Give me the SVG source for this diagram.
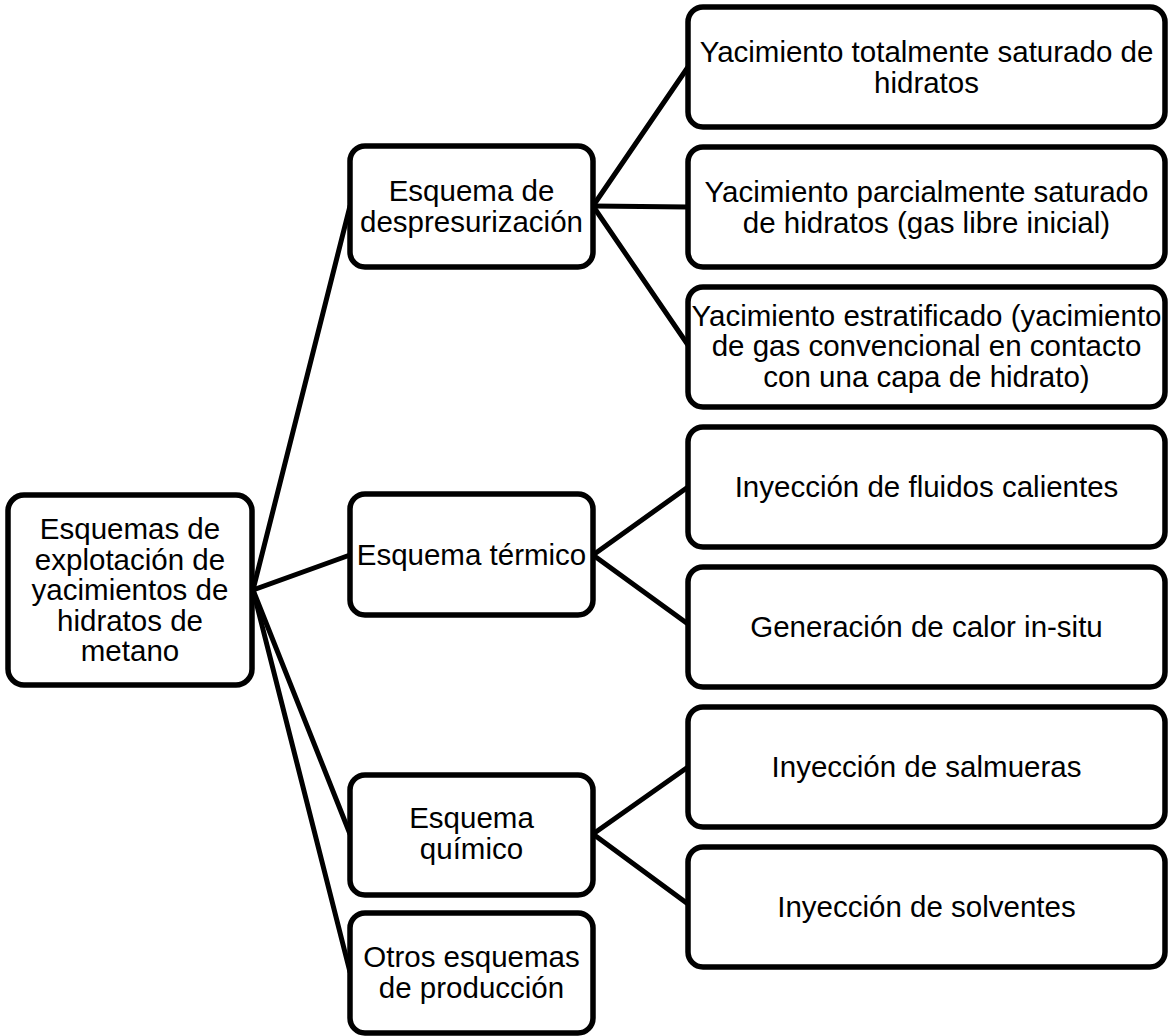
<svg xmlns="http://www.w3.org/2000/svg" width="1169" height="1036" viewBox="0 0 1169 1036">
<style>
rect.n{fill:#fff;stroke:#000;stroke-width:5.5}
text{font-family:"Liberation Sans",Arial,sans-serif;font-size:29.5px;fill:#000;text-anchor:middle}
.c line{stroke:#000;stroke-width:5;stroke-linecap:round}
</style>
<rect width="1169" height="1036" fill="#fff"/>
<g class="c" id="connectors">
<line x1="253" y1="590" x2="350" y2="206"/>
<line x1="253" y1="590" x2="350" y2="555"/>
<line x1="253" y1="590" x2="350" y2="834"/>
<line x1="253" y1="590" x2="350" y2="972"/>
<line x1="593" y1="206" x2="688" y2="67"/>
<line x1="593" y1="206" x2="688" y2="207"/>
<line x1="593" y1="206" x2="688" y2="345"/>
<line x1="593" y1="555" x2="688" y2="487"/>
<line x1="593" y1="555" x2="688" y2="624"/>
<line x1="593" y1="834" x2="688" y2="767"/>
<line x1="593" y1="834" x2="688" y2="904"/>
</g>
<g id="root"><rect class="n" x="8" y="495" width="244" height="190" rx="16"/>
<text x="130"><tspan x="130" y="539">Esquemas de</tspan><tspan x="130" y="569.5">explotación de</tspan><tspan x="130" y="600">yacimientos de</tspan><tspan x="130" y="630.5">hidratos de</tspan><tspan x="130" y="661">metano</tspan></text></g>
<g id="despresurizacion"><rect class="n" x="350" y="146" width="243" height="121" rx="15"/>
<text><tspan x="471.5" y="201">Esquema de</tspan><tspan x="471.5" y="231.5">despresurización</tspan></text></g>
<g id="termico"><rect class="n" x="350" y="494" width="243" height="121" rx="15"/>
<text x="471.5" y="565">Esquema térmico</text></g>
<g id="quimico"><rect class="n" x="350" y="775" width="243" height="120" rx="15"/>
<text><tspan x="471.5" y="828">Esquema</tspan><tspan x="471.5" y="858.5">químico</tspan></text></g>
<g id="otros"><rect class="n" x="350" y="913" width="243" height="120" rx="15"/>
<text><tspan x="471.5" y="967">Otros esquemas</tspan><tspan x="471.5" y="997.5">de producción</tspan></text></g>
<g id="r1"><rect class="n" x="688" y="7" width="477" height="120" rx="15"/>
<text><tspan x="926.5" y="62">Yacimiento totalmente saturado de</tspan><tspan x="926.5" y="92.5">hidratos</tspan></text></g>
<g id="r2"><rect class="n" x="688" y="147" width="477" height="120" rx="15"/>
<text><tspan x="926.5" y="202">Yacimiento parcialmente saturado</tspan><tspan x="926.5" y="232.5">de hidratos (gas libre inicial)</tspan></text></g>
<g id="r3"><rect class="n" x="688" y="287" width="477" height="120" rx="15"/>
<text><tspan x="926.5" y="325.5">Yacimiento estratificado (yacimiento</tspan><tspan x="926.5" y="356">de gas convencional en contacto</tspan><tspan x="926.5" y="386.5">con una capa de hidrato)</tspan></text></g>
<g id="r4"><rect class="n" x="688" y="427" width="477" height="120" rx="15"/>
<text x="926.5" y="497">Inyección de fluidos calientes</text></g>
<g id="r5"><rect class="n" x="688" y="567" width="477" height="120" rx="15"/>
<text x="926.5" y="637">Generación de calor in-situ</text></g>
<g id="r6"><rect class="n" x="688" y="707" width="477" height="120" rx="15"/>
<text x="926.5" y="777">Inyección de salmueras</text></g>
<g id="r7"><rect class="n" x="688" y="847" width="477" height="120" rx="15"/>
<text x="926.5" y="917">Inyección de solventes</text></g>
</svg>
